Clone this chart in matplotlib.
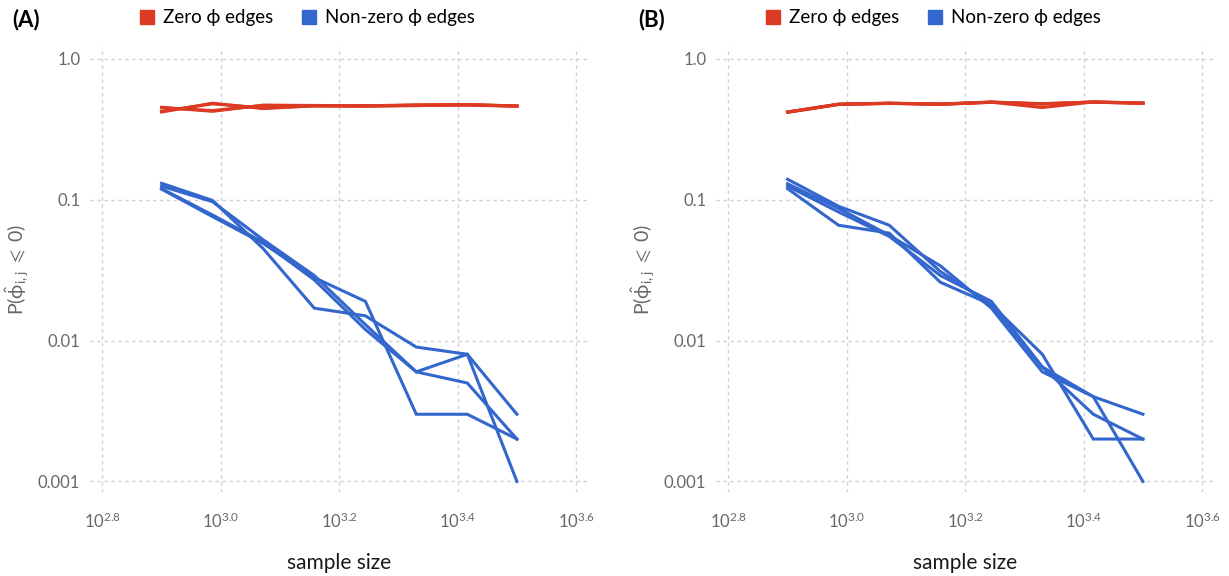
import numpy as np
import matplotlib
matplotlib.use('Agg')
import matplotlib.pyplot as plt
from matplotlib.patches import Patch
from matplotlib.ticker import FixedLocator, FixedFormatter, NullLocator

plt.rcParams['font.family'] = ['Lato', 'DejaVu Sans']
plt.rcParams['mathtext.fontset'] = 'custom'
plt.rcParams['mathtext.rm'] = 'Lato'
plt.rcParams['mathtext.it'] = 'Lato'
plt.rcParams['mathtext.fallback'] = 'stixsans'
plt.rcParams['mathtext.default'] = 'regular'

# sample sizes
sample_size = [794, 968, 1179, 1438, 1754, 2138, 2607, 3162]

# panel A
zero_a = [
    [0.420, 0.485, 0.444, 0.466, 0.466, 0.468, 0.472, 0.463],
    [0.454, 0.425, 0.470, 0.466, 0.465, 0.472, 0.475, 0.463],
    [0.450, 0.430, 0.468, 0.468, 0.463, 0.470, 0.470, 0.462],
    [0.425, 0.480, 0.450, 0.463, 0.462, 0.466, 0.474, 0.464],
]
nonzero_a = [
    [0.131, 0.099, 0.045, 0.017, 0.015, 0.009, 0.008, 0.003],
    [0.125, 0.097, 0.052, 0.029, 0.013, 0.006, 0.008, 0.001],
    [0.120, 0.078, 0.050, 0.027, 0.012, 0.006, 0.005, 0.002],
    [0.119, 0.076, 0.049, 0.028, 0.019, 0.003, 0.003, 0.002],
]

# panel B
zero_b = [
    [0.418, 0.475, 0.484, 0.477, 0.494, 0.480, 0.494, 0.485],
    [0.420, 0.478, 0.486, 0.478, 0.493, 0.452, 0.495, 0.486],
    [0.419, 0.476, 0.485, 0.476, 0.492, 0.482, 0.493, 0.484],
    [0.420, 0.477, 0.483, 0.479, 0.495, 0.478, 0.496, 0.487],
]
nonzero_b = [
    [0.140, 0.090, 0.066, 0.031, 0.018, 0.008, 0.002, 0.002],
    [0.130, 0.087, 0.056, 0.034, 0.017, 0.006, 0.004, 0.003],
    [0.125, 0.082, 0.055, 0.029, 0.019, 0.0065, 0.003, 0.002],
    [0.120, 0.066, 0.058, 0.026, 0.018, 0.0065, 0.004, 0.001],
]

x_exps = ['2.8', '3.0', '3.2', '3.4', '3.6']
y_ticks = [1.0, 0.1, 0.01, 0.001]
y_labels = ['1.0', '0.1', '0.01', '0.001']
panel_names = ['(A)', '(B)']
series_names = ['Zero \u03d5 edges', 'Non-zero \u03d5 edges']

RED = '#dc3a22'
BLUE = '#3367cd'
GRID = '#cfcfe0'
TICK = '#6c646e'

W, H = 1229, 576
fig = plt.figure(figsize=(W / 100, H / 100), dpi=100)


def make_panel(left_px, zero, nonzero, name):
    ax = fig.add_axes([left_px / W, (H - 492) / H, 498 / W, 445 / H])
    ax.set_xscale('log')
    ax.set_yscale('log')
    for ys in zero:
        ax.plot(sample_size, ys, color=RED, lw=2.2, solid_joinstyle='miter')
    for ys in nonzero:
        ax.plot(sample_size, ys, color=BLUE, lw=2.2, solid_joinstyle='miter')
    ax.set_xlim(10 ** 2.779, 10 ** 3.620)
    ax.set_ylim(10 ** -3.075, 10 ** 0.085)
    ax.xaxis.set_major_locator(FixedLocator([10 ** float(e) for e in x_exps]))
    ax.xaxis.set_major_formatter(FixedFormatter([r'$10^{%s}$' % e for e in x_exps]))
    ax.xaxis.set_minor_locator(NullLocator())
    ax.yaxis.set_major_locator(FixedLocator(y_ticks))
    ax.yaxis.set_major_formatter(FixedFormatter(y_labels))
    ax.yaxis.set_minor_locator(NullLocator())
    ax.tick_params(length=0, colors=TICK, labelsize=12)
    ax.tick_params(axis='x', pad=14)
    ax.tick_params(axis='y', pad=7)
    for s in ax.spines.values():
        s.set_visible(False)
    ax.grid(True, color=GRID, lw=1.0, ls=(0, (2.5, 2.5)))
    ax.set_axisbelow(True)
    ax.set_xlabel('sample size', fontsize=15, color='#1a1a1a', labelpad=16)
    ax.set_ylabel(r'P($\hat{\phi}_{i,j}$ $\leqslant$ 0)', fontsize=14, color=TICK, labelpad=5)
    fig.text((left_px - 78) / W, 1 - 20 / H, name, fontsize=16, fontweight='bold',
             ha='left', va='center')
    handles = [Patch(color=RED, label=series_names[0]),
               Patch(color=BLUE, label=series_names[1])]
    fig.legend(handles=handles, loc='center left',
               bbox_to_anchor=((left_px + 50) / W, 1 - 18 / H), ncol=2,
               frameon=False, fontsize=13.5, handlelength=0.75, handleheight=0.75,
               handletextpad=0.5, columnspacing=1.5, borderaxespad=0, borderpad=0)
    return ax


make_panel(90, zero_a, nonzero_a, panel_names[0])
make_panel(716, zero_b, nonzero_b, panel_names[1])

fig.savefig('out.png', dpi=100)
